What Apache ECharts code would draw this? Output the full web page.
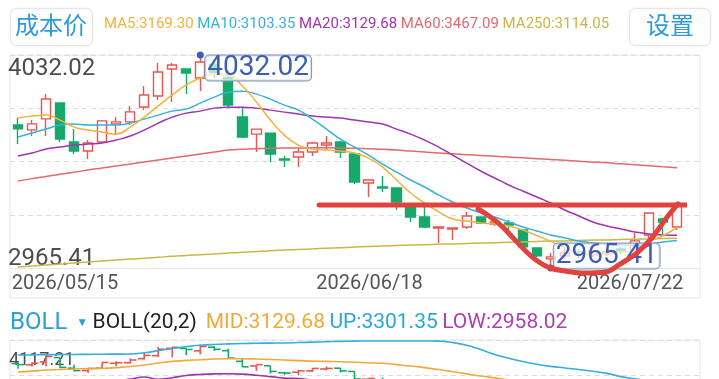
<!DOCTYPE html>
<html>
<head>
<meta charset="utf-8">
<script src="https://cdn.jsdelivr.net/npm/echarts@6/dist/echarts.min.js"></script>
<style>
html,body{margin:0;padding:0;background:#fff;}
#main{width:719px;height:379px;}
</style>
</head>
<body>
<div id="main"></div>
<script>
// ---------------- data ----------------
const dates = ['2026/05/15','2026/05/18','2026/05/19','2026/05/20','2026/05/21','2026/05/22','2026/05/25','2026/05/26','2026/05/27','2026/05/28','2026/05/29',
'2026/06/01','2026/06/02','2026/06/03','2026/06/04','2026/06/05','2026/06/08','2026/06/09','2026/06/10','2026/06/11','2026/06/12','2026/06/15','2026/06/16','2026/06/17','2026/06/18','2026/06/22','2026/06/23','2026/06/24','2026/06/25','2026/06/26','2026/06/29','2026/06/30',
'2026/07/01','2026/07/02','2026/07/03','2026/07/06','2026/07/07','2026/07/08','2026/07/09','2026/07/10','2026/07/13','2026/07/14','2026/07/15','2026/07/16','2026/07/17','2026/07/20','2026/07/21','2026/07/22'];

const opens  = [3682,3657,3712,3792,3596,3551,3596,3687,3697,3772,3827,3962,3962,3917,3985,3920,3722,3636,3641,3511,3521,3546,3581,3596,3536,3391,3371,3366,3271,3221,3166,3161,3171,3221,3186,3191,3156,3066,3011,3026,3046,3031,3036,3061,3056,3131,3211,3171];
const closes = [3662,3687,3812,3611,3551,3591,3702,3697,3747,3832,3947,3982,3942,3997,3945,3782,3621,3661,3536,3506,3546,3591,3591,3546,3396,3406,3366,3296,3221,3171,3171,3166,3226,3191,3196,3181,3071,3026,3021,3041,3031,3051,3046,3051,3101,3241,3196,3276];
const lows   = [3586,3626,3626,3596,3536,3511,3591,3631,3682,3757,3807,3797,3837,3852,3915,3772,3616,3546,3496,3471,3471,3526,3556,3516,3386,3321,3346,3256,3196,3166,3091,3106,3161,3186,3176,3146,3066,3021,2965.41,3011,3016,3021,3026,3036,3046,3116,3136,3156];
const highs  = [3717,3707,3837,3792,3661,3606,3707,3722,3777,3877,3992,3992,3962,4032.02,4000,3957,3767,3661,3641,3526,3566,3596,3626,3596,3536,3406,3426,3366,3271,3281,3171,3166,3246,3221,3211,3206,3156,3066,3041,3066,3061,3071,3066,3071,3141,3241,3216,3291];

const ma5   = [3716,3726,3731,3706,3671,3656,3646,3636,3671,3721,3777,3832,3882,3917,3937,3932,3877,3797,3706,3631,3581,3561,3556,3551,3541,3516,3471,3406,3341,3291,3246,3211,3201,3191,3186,3176,3156,3128,3099,3068,3040,3034,3038,3044,3056,3098,3127,3169.30];
const ma10  = [3621,3641,3661,3681,3686,3681,3681,3681,3691,3711,3731,3751,3761,3791,3821,3846,3851,3836,3811,3781,3756,3711,3661,3611,3571,3531,3486,3446,3406,3371,3331,3296,3266,3241,3221,3196,3171,3151,3131,3116,3101,3091,3086,3081,3081,3086,3096,3103.35];
const ma20  = [3526,3541,3561,3571,3581,3586,3591,3606,3626,3656,3691,3721,3741,3751,3766,3771,3771,3766,3756,3746,3736,3726,3721,3716,3706,3696,3686,3661,3636,3606,3571,3531,3491,3451,3416,3381,3351,3321,3291,3256,3226,3196,3176,3161,3146,3136,3131,3129.68];
const ma60  = [3401,3413,3424,3435,3445,3456,3466,3476,3486,3496,3506,3516,3526,3536,3546,3556,3560,3563,3565,3566,3566,3567,3567,3566,3565,3563,3560,3556,3551,3546,3541,3537,3533,3529,3525,3521,3517,3513,3509,3505,3500,3496,3492,3487,3482,3477,3472,3467.09];
const ma250 = [2971,2976,2980,2985,2990,2996,3001,3005,3010,3014,3019,3024,3028,3032,3036,3040,3044,3048,3052,3055,3058,3061,3064,3067,3070,3073,3076,3078,3080,3082,3084,3086,3088,3090,3092,3094,3096,3098,3100,3101,3103,3105,3106,3108,3110,3111,3113,3114.05];

const bollUp  = [3840,3842,3845,3848,3850,3852,3854,3856,3858,3880,3920,3960,3995,4020,4035,4045,4052,4057,4060,4063,4070,4078,4085,4092,4097,4099,4100,4100,4100,4099,4097,4070,4020,3940,3850,3780,3720,3670,3630,3600,3570,3540,3500,3440,3400,3360,3330,3301.35];
const bollLow = [3212,3241,3278,3295,3313,3321,3329,3357,3395,3433,3390,3420,3460,3480,3490,3492,3485,3465,3440,3412,3403,3375,3358,3341,3316,3294,3273,3223,3173,3114,3046,2992,2962,2962,2982,2982,2982,2972,2952,2912,2882,2852,2852,2882,2892,2912,2932,2958.02];

const priceMin = 2965.41, priceMax = 4032.02;   // main panel axis range
const bollMax = 4117.21, bollMin = 1527.21;      // BOLL panel axis range
const priceTickLabels = ['2965.41', '4032.02'];
const bollTickLabel = '4117.21';
const dateLabelIdx = [0, 24, 47];

// hand-drawn annotation strokes (in [index, price] space)
const trendLine = [[21.47, 3281], [50.0, 3281]];
const cupCurve = [[32.81,3261],[34.24,3191],[35.45,3106],[36.66,3021],[37.80,2970],[39.02,2950],[40.44,2940],[41.87,2945],[42.94,2985],[44.15,3041],[45.22,3116],[46.14,3206],[47.08,3286]];

// ---------------- chart ----------------
const UP = '#e8564e', DOWN = '#17a86b';
const C5 = '#f2b23a', C10 = '#36b2d8', C20 = '#a033b0', C60 = '#e06a6c', C250 = '#ccb548';
const FONT = 'Roboto, "Noto Sans", sans-serif';

const last = a => a[a.length - 1].toFixed(2);
const kData = dates.map((d, i) => [opens[i], closes[i], lows[i], highs[i]]);
const ohlc = dates.map((d, i) => [i, opens[i], closes[i], lows[i], highs[i]]);
const maxIdx = highs.indexOf(Math.max(...highs));
const minIdx = lows.indexOf(Math.min(...lows));

const chart = echarts.init(document.getElementById('main'), null, {renderer: 'canvas'});

const gridBase = {outerBoundsMode: 'none', containLabel: false};

const option = {
  animation: false,
  backgroundColor: '#ffffff',
  textStyle: {fontFamily: FONT},
  title: [
    {
      left: 104, top: 17, padding: 0,
      text: '{a|MA5:' + last(ma5) + '} {b|MA10:' + last(ma10) + '} {c|MA20:' + last(ma20) + '} {d|MA60:' + last(ma60) + '} {e|MA250:' + last(ma250) + '}',
      textStyle: {fontFamily: FONT, fontSize: 15, fontWeight: 'normal', rich: {
        a: {color: C5, fontSize: 15, fontFamily: FONT},
        b: {color: C10, fontSize: 15, fontFamily: FONT},
        c: {color: C20, fontSize: 15, fontFamily: FONT},
        d: {color: C60, fontSize: 15, fontFamily: FONT},
        e: {color: C250, fontSize: 15, fontFamily: FONT}
      }}
    },
    {
      left: 10, top: 311, padding: 0,
      text: '{boll|BOLL}  {arr|▼} {p|BOLL(20,2)}  {mid|MID:' + last(ma20) + '} {up|UP:' + last(bollUp) + '} {low|LOW:' + last(bollLow) + '}',
      textStyle: {fontFamily: FONT, fontWeight: 'normal', rich: {
        boll: {color: '#2c9ed8', fontSize: 24, fontFamily: FONT},
        arr: {color: '#2c9ed8', fontSize: 12, fontFamily: FONT},
        p: {color: '#222', fontSize: 21, fontFamily: FONT},
        mid: {color: '#f2a93a', fontSize: 21, fontFamily: FONT},
        up: {color: '#2aa8d6', fontSize: 21, fontFamily: FONT},
        low: {color: '#b03eb0', fontSize: 21, fontFamily: FONT}
      }}
    }
  ],
  graphic: [
    {type: 'rect', left: 10, top: 8, shape: {width: 82, height: 37, r: 6}, style: {fill: '#fff', stroke: '#e6e6e6', lineWidth: 1, shadowColor: 'rgba(0,0,0,0.06)', shadowBlur: 3}},
    {type: 'text', left: 15, top: 13, style: {text: '成本价', fill: '#2e9ad6', font: '24px "Noto Sans CJK SC", sans-serif'}},
    {type: 'rect', left: 629, top: 8, shape: {width: 81, height: 37, r: 6}, style: {fill: '#fff', stroke: '#e6e6e6', lineWidth: 1, shadowColor: 'rgba(0,0,0,0.06)', shadowBlur: 3}},
    {type: 'text', left: 646, top: 13, style: {text: '设置', fill: '#2e9ad6', font: '24px "Noto Sans CJK SC", sans-serif'}}
  ],
  grid: [
    Object.assign({left: 10, top: 55, width: 690, height: 243, show: true, borderColor: '#e6e6e6', borderWidth: 1, backgroundColor: 'transparent'}, gridBase),
    Object.assign({left: 10, top: 55, width: 690, height: 213}, gridBase),
    Object.assign({left: 11, top: 55, width: 673, height: 213}, gridBase),
    Object.assign({left: 10, top: 340, width: 690, height: 140, show: true, borderColor: '#e6e6e6', borderWidth: 1, backgroundColor: 'transparent'}, gridBase),
    Object.assign({left: 11, top: 340, width: 673, height: 140}, gridBase)
  ],
  xAxis: [
    {gridIndex: 0, type: 'value', show: false, min: 0, max: 1},
    {gridIndex: 1, type: 'value', min: 0, max: 1, axisLine: {show: true, lineStyle: {color: '#e6e6e6'}}, axisTick: {show: false}, axisLabel: {show: false}, splitLine: {show: false}},
    {gridIndex: 2, type: 'category', data: dates, boundaryGap: true,
      axisLine: {show: false}, axisTick: {show: false}, splitLine: {show: false},
      axisLabel: {
        show: true, margin: 6, color: '#555', fontSize: 20, fontFamily: FONT, hideOverlap: false,
        interval: (i) => dateLabelIdx.indexOf(i) >= 0,
        formatter: (v, i) => i === dateLabelIdx[0] ? '{l|' + v + '}' : (i === dateLabelIdx[1] ? '{m|' + v + '}' : '{r|' + v + '}'),
        rich: {
          l: {padding: [0, 0, 0, 94], fontSize: 20, color: '#555', fontFamily: FONT},
          m: {padding: [0, 0, 0, 30], fontSize: 20, color: '#555', fontFamily: FONT},
          r: {padding: [0, 94, 0, 0], fontSize: 20, color: '#555', fontFamily: FONT}
        }
      }},
    {gridIndex: 2, type: 'value', show: false, min: -0.5, max: dates.length - 0.5},
    {gridIndex: 3, type: 'value', show: false, min: 0, max: 1},
    {gridIndex: 4, type: 'category', data: dates, boundaryGap: true, show: false}
  ],
  yAxis: [
    {gridIndex: 0, type: 'value', show: false, min: 0, max: 1},
    {gridIndex: 1, type: 'value', min: 0, max: 4, interval: 1,
      axisLine: {show: false}, axisTick: {show: false},
      splitLine: {show: true, lineStyle: {color: '#dcdcdc', type: [5, 4], width: 1}},
      axisLabel: {
        show: true, inside: true, margin: -2, color: '#4d4d4d', fontSize: 24, fontFamily: FONT,
        formatter: (v) => v === 4 ? '{t|' + priceTickLabels[1] + '}' : (v === 0 ? '{b|' + priceTickLabels[0] + '}' : ''),
        rich: {
          t: {padding: [28, 0, 0, 0], fontSize: 24, color: '#4d4d4d', fontFamily: FONT},
          b: {padding: [0, 0, 19, 0], fontSize: 24, color: '#4d4d4d', fontFamily: FONT}
        }
      }},
    {gridIndex: 2, type: 'value', show: false, min: priceMin, max: priceMax},
    {gridIndex: 3, type: 'value', min: 0, max: 4, interval: 1,
      axisLine: {show: false}, axisTick: {show: false},
      splitLine: {show: true, lineStyle: {color: '#dcdcdc', type: [5, 4], width: 1}},
      axisLabel: {
        show: true, inside: true, margin: -1, color: '#4d4d4d', fontSize: 18, fontFamily: FONT,
        formatter: (v) => v === 4 ? '{t|' + bollTickLabel + '}' : '',
        rich: {t: {padding: [40, 0, 0, 0], fontSize: 18, color: '#4d4d4d', fontFamily: FONT}}
      }},
    {gridIndex: 4, type: 'value', show: false, min: bollMin, max: bollMax}
  ],
  series: [
    {
      type: 'candlestick', xAxisIndex: 2, yAxisIndex: 2, data: kData, barWidth: '70%',
      itemStyle: {color: '#ffffff', color0: DOWN, borderColor: UP, borderColor0: DOWN, borderWidth: 1.4},
      markPoint: {
        symbol: 'circle', symbolSize: 7,
        itemStyle: {color: '#3a5fc0'},
        data: [
          {coord: [maxIdx, highs[maxIdx]], value: highs[maxIdx],
            label: {show: true, position: [8.5, 4], formatter: highs[maxIdx].toFixed(2), color: '#3c5db0', fontSize: 28, fontFamily: FONT,
              lineHeight: 25, backgroundColor: 'rgba(255,255,255,0.65)', borderColor: '#8095c4', borderWidth: 1, borderRadius: 4, padding: [0, 2, 0, 2]}},
          {coord: [minIdx, lows[minIdx]], value: lows[minIdx],
            label: {show: true, position: [6.5, -21], formatter: lows[minIdx].toFixed(2), color: '#3c5db0', fontSize: 28, fontFamily: FONT,
              lineHeight: 25, backgroundColor: 'rgba(255,255,255,0.65)', borderColor: '#8095c4', borderWidth: 1, borderRadius: 4, padding: [0, 2, 0, 2]}}
        ]
      },
      z: 2
    },
    {type: 'line', xAxisIndex: 2, yAxisIndex: 2, data: ma250, symbol: 'none', smooth: true, lineStyle: {color: C250, width: 1.5}, z: 3},
    {type: 'line', xAxisIndex: 2, yAxisIndex: 2, data: ma60, symbol: 'none', smooth: true, lineStyle: {color: C60, width: 1.5}, z: 3},
    {type: 'line', xAxisIndex: 2, yAxisIndex: 2, data: ma20, symbol: 'none', smooth: true, lineStyle: {color: C20, width: 1.5}, z: 3},
    {type: 'line', xAxisIndex: 2, yAxisIndex: 2, data: ma10, symbol: 'none', smooth: true, lineStyle: {color: C10, width: 1.5}, z: 3},
    {type: 'line', xAxisIndex: 2, yAxisIndex: 2, data: ma5, symbol: 'none', smooth: true, lineStyle: {color: C5, width: 1.5}, z: 3},
    {type: 'line', xAxisIndex: 3, yAxisIndex: 2, data: trendLine, symbol: 'none', clip: false,
      lineStyle: {color: '#e0423e', width: 5, cap: 'round'}, z: 6},
    {type: 'line', xAxisIndex: 3, yAxisIndex: 2, data: cupCurve, symbol: 'none', smooth: 0.4, clip: false,
      lineStyle: {color: '#e0423e', width: 5, cap: 'round', join: 'round'}, z: 6},
    // BOLL panel
    {
      type: 'custom', xAxisIndex: 5, yAxisIndex: 4, data: ohlc, encode: {x: 0, y: [1, 2, 3, 4]},
      renderItem: function (params, api) {
        const i = api.value(0), o = api.value(1), c = api.value(2), l = api.value(3), h = api.value(4);
        const pH = api.coord([i, h]), pL = api.coord([i, l]), pO = api.coord([i, o]), pC = api.coord([i, c]);
        const w = api.size([1, 0])[0] * 0.45;
        const col = c >= o ? UP : DOWN;
        const st = {stroke: col, lineWidth: 1.6};
        return {type: 'group', children: [
          {type: 'line', shape: {x1: pH[0], y1: pH[1], x2: pL[0], y2: pL[1]}, style: st},
          {type: 'line', shape: {x1: pO[0] - w, y1: pO[1], x2: pO[0], y2: pO[1]}, style: st},
          {type: 'line', shape: {x1: pC[0], y1: pC[1], x2: pC[0] + w, y2: pC[1]}, style: st}
        ]};
      },
      z: 2
    },
    {type: 'line', xAxisIndex: 5, yAxisIndex: 4, data: bollUp, symbol: 'none', smooth: true, lineStyle: {color: '#34aedc', width: 1.6}, z: 3},
    {type: 'line', xAxisIndex: 5, yAxisIndex: 4, data: ma20, symbol: 'none', smooth: true, lineStyle: {color: '#f2a93a', width: 1.6}, z: 3},
    {type: 'line', xAxisIndex: 5, yAxisIndex: 4, data: bollLow, symbol: 'none', smooth: true, lineStyle: {color: '#a033b0', width: 1.6}, z: 3}
  ]
};
chart.setOption(option);
</script>
</body>
</html>
